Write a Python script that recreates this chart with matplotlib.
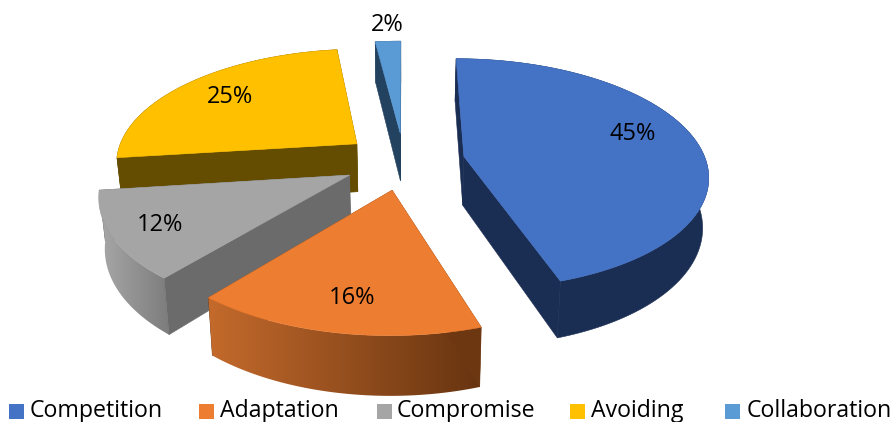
import numpy as np
import matplotlib
matplotlib.use("Agg")
import matplotlib.pyplot as plt
from matplotlib.colors import LinearSegmentedColormap
from matplotlib.patches import Polygon, Rectangle

# Chart content
categories = ["Competition", "Adaptation", "Compromise", "Avoiding", "Collaboration"]
shares = [45, 16, 12, 25, 2]

# Slice styling
top_colors = ["#4472c4", "#ed7d31", "#a5a5a5", "#ffc000", "#5b9bd5"]
wall_colors = ["#1a2d52", "#6d3712", "#6b6b6b", "#644c00", "#23425f"]
rim_left = ["#1a2d52", "#c46a2c", "#a8a8a8", "#644c00", "#23425f"]
rim_right = ["#1a2d52", "#673410", "#7c7c7c", "#644c00", "#23425f"]
label_xy = [(633, 134), (352, 298), (160, 225), (230, 97), (387, 25)]
legend_box_x = [9, 199, 377, 570, 725]
legend_text_x = [30, 220, 397, 591, 747]

# Projection of the pie plane: pixel-based camera model
CX, CY = 404.0, 161.0
TILT = 0.47
PERSP = 0.00062
RADIUS = 242.0
EXPLODE = 61.0
DEPTH = 49.0
BOTTOM_SHRINK = 0.98


def project(X, Y, lower=False):
    """Map plane coordinates (Y towards the viewer) to pixels."""
    s = 1.0 / (1.0 - PERSP * np.asarray(Y, dtype=float))
    x = CX + np.asarray(X, dtype=float) * s
    y = CY + TILT * np.asarray(Y, dtype=float) * s
    if lower:
        x = CX + (x - CX) * BOTTOM_SHRINK
        y = y + DEPTH * s
    return np.column_stack([np.atleast_1d(x), np.atleast_1d(y)])


fig = plt.figure(figsize=(8.95, 4.22), dpi=100)
ax = fig.add_axes([0, 0, 1, 1])
ax.axis("off")

edges = np.concatenate([[0], np.cumsum(shares)]) / np.sum(shares) * 2 * np.pi
# Paint from the back of the pie to the front
order = [4, 3, 0, 2, 1]
z = 1

for i in order:
    a0, a1 = edges[i], edges[i + 1]
    mid = (a0 + a1) / 2
    ox, oy = EXPLODE * np.sin(mid), -EXPLODE * np.cos(mid)
    t = np.linspace(a0, a1, max(8, int((a1 - a0) * 60)))
    arc_X = ox + RADIUS * np.sin(t)
    arc_Y = oy - RADIUS * np.cos(t)
    top_arc = project(arc_X, arc_Y)
    low_arc = project(arc_X, arc_Y, lower=True)
    top_apex = project(ox, oy)
    low_apex = project(ox, oy, lower=True)

    # Radial walls: the farther wall first, the nearer one over the rim
    walls = sorted([(arc_Y[0], 0), (arc_Y[-1], -1)])
    far, near = walls[0][1], walls[1][1]

    far_quad = np.vstack([top_apex, top_arc[far], low_arc[far], low_apex])
    ax.add_patch(Polygon(far_quad, facecolor=wall_colors[i], edgecolor=wall_colors[i],
                         linewidth=0.4, zorder=z))
    z += 1

    # Outer rim with a left-to-right shade
    rim = np.vstack([top_arc, low_arc[::-1]])
    if rim_left[i] == rim_right[i]:
        ax.add_patch(Polygon(rim, facecolor=rim_left[i], edgecolor=rim_left[i],
                             linewidth=0.4, zorder=z))
    else:
        clip = Polygon(rim, transform=ax.transData, facecolor="none", edgecolor="none")
        ax.add_patch(clip)
        cmap = LinearSegmentedColormap.from_list("rim", [rim_left[i], rim_right[i]])
        shade = np.linspace(0, 1, 256).reshape(1, -1)
        extent = (rim[:, 0].min(), rim[:, 0].max(), rim[:, 1].max(), rim[:, 1].min())
        im = ax.imshow(shade, cmap=cmap, extent=extent, aspect="auto", zorder=z,
                       interpolation="bilinear")
        im.set_clip_path(clip)
    z += 1

    near_quad = np.vstack([top_apex, top_arc[near], low_arc[near], low_apex])
    ax.add_patch(Polygon(near_quad, facecolor=wall_colors[i], edgecolor=wall_colors[i],
                         linewidth=0.4, zorder=z))
    z += 1

    ax.add_patch(Polygon(np.vstack([top_apex, top_arc]), closed=True,
                         facecolor=top_colors[i], edgecolor=top_colors[i],
                         linewidth=0.4, zorder=z))
    z += 1

for v, (lx, ly) in zip(shares, label_xy):
    ax.text(lx, ly, f"{v}%", ha="center", va="center", fontsize=17,
            family="Open Sans", color="black", zorder=z)

for name, col, bx, tx in zip(categories, top_colors, legend_box_x, legend_text_x):
    ax.add_patch(Rectangle((bx, 404), 15, 15, facecolor=col, edgecolor="none", zorder=z))
    ax.text(tx, 417, name, ha="left", va="baseline", fontsize=16.7,
            family="Open Sans", color="black", zorder=z)

ax.set_xlim(0, 895)
ax.set_ylim(422, 0)

fig.savefig("out.png", dpi=100)
